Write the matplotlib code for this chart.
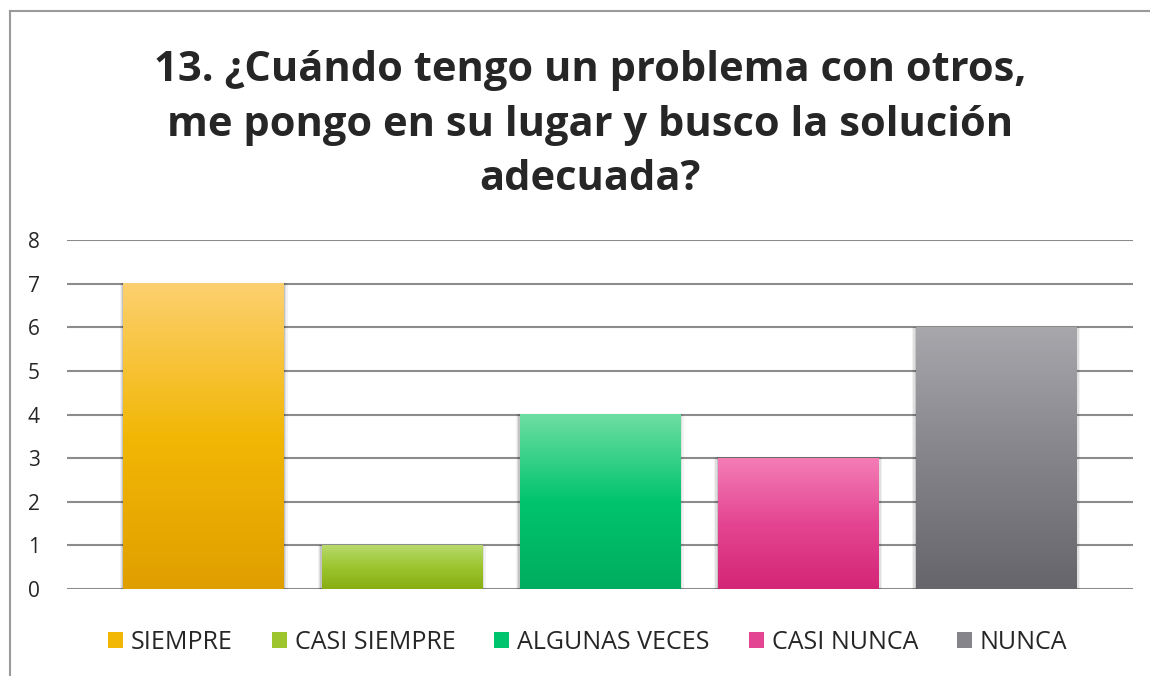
import numpy as np
import matplotlib
matplotlib.use("Agg")
import matplotlib.pyplot as plt
from matplotlib.colors import LinearSegmentedColormap
from matplotlib.patches import Patch
from matplotlib.lines import Line2D

categories = ["SIEMPRE", "CASI SIEMPRE", "ALGUNAS VECES", "CASI NUNCA", "NUNCA"]
values = [7, 1, 4, 3, 6]
title = "13. ¿Cuándo tengo un problema con otros,\nme pongo en su lugar y busco la solución\nadecuada?"

# (top, middle, bottom) colours of each bar's vertical gradient
gradients = [
    ("#fdd06f", "#f2b705", "#e09f00"),
    ("#b7da6c", "#9cc52e", "#88ae13"),
    ("#6edea2", "#00c46e", "#00ad5f"),
    ("#f47db6", "#e44592", "#d42577"),
    ("#a8a7ac", "#85848a", "#66656b"),
]

plt.rcParams["font.family"] = ["Open Sans", "DejaVu Sans"]

fig = plt.figure(figsize=(11.5, 6.76), dpi=100)
ax = fig.add_axes([0.0583, 0.1287, 0.9267, 0.516])

x = np.arange(len(categories))
bars = ax.bar(x, values, width=0.81, color="none", zorder=3)

grad = np.linspace(1, 0, 256).reshape(-1, 1)
for bar, cols in zip(bars, gradients):
    x0, y0 = bar.get_x(), bar.get_y()
    w, h = bar.get_width(), bar.get_height()
    # soft shadow behind the bar
    for k, a in enumerate([0.05, 0.08, 0.12]):
        d = 0.018 - k * 0.006
        ax.add_patch(plt.Rectangle((x0 - d, y0), w + 2 * d, h + 0.02, color="#000000",
                                   alpha=a, lw=0, zorder=2.5))
    cmap = LinearSegmentedColormap.from_list("g", [cols[2], cols[1], cols[0]])
    ax.imshow(grad, cmap=cmap, aspect="auto", extent=(x0, x0 + w, y0, y0 + h),
              zorder=3, interpolation="bicubic")

ax.set_xlim(-0.69, len(categories) - 1 + 0.69)
ax.set_ylim(0, 8)
ax.set_yticks(range(0, 9))
ax.yaxis.grid(True, color="#8c8c8c", lw=1.5, zorder=1)
ax.set_axisbelow(True)
ax.set_xticks([])
for s in ax.spines.values():
    s.set_visible(False)
ax.tick_params(axis="y", length=0, pad=24, labelsize=15, labelcolor="#262626")
for lab in ax.get_yticklabels():
    lab.set_horizontalalignment("center")

fig.text(0.513, 0.815, title, ha="center", va="center", fontsize=30, fontweight="bold",
         color="#262626", linespacing=1.44)

handles = [Patch(facecolor=c[1], edgecolor="none") for c in gradients]
fig.legend(handles, categories, loc="center", bbox_to_anchor=(0.511, 0.05), ncol=5,
           frameon=False, fontsize=18, handlelength=0.6, handleheight=0.6,
           handletextpad=0.32, columnspacing=1.55, labelcolor="#262626")

# chart border (left and top edges visible)
fig.add_artist(Line2D([10 / 1150, 10 / 1150], [0, 1 - 11 / 676], color="#9a9a9a", lw=1.5,
                      transform=fig.transFigure))
fig.add_artist(Line2D([10 / 1150, 1], [1 - 11 / 676, 1 - 11 / 676], color="#9a9a9a", lw=1.5,
                      transform=fig.transFigure))

fig.savefig("out.png", dpi=100)
